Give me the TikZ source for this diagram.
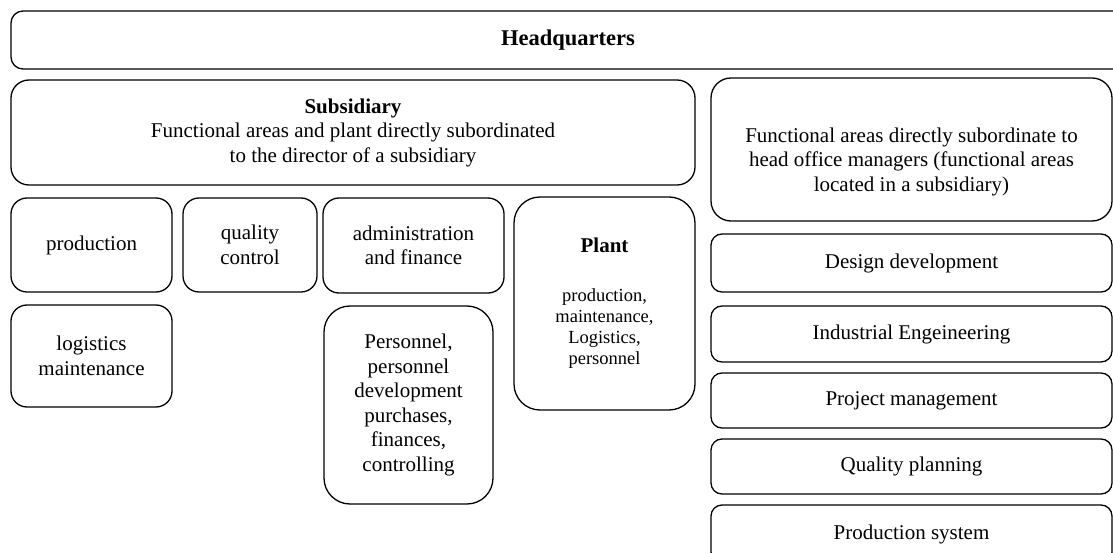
\documentclass[tikz,border=0pt]{standalone}
\usepackage{fontspec}
\setmainfont{Liberation Serif}
\usepackage{xcolor}

\tikzset{
    box/.style={draw,rounded corners=#1,align=center,inner sep=0pt},
    box/.default=14pt,
    txt/.style={font=\fontsize{21}{24.5}\selectfont}
}

\begin{document}
\begin{tikzpicture}[x=1pt,y=-1pt,line width=1.3pt,txt]
    \useasboundingbox (0,0) rectangle (1113,553);
    \clip (0,0) rectangle (1113,553);

    % top level
    \node[box=12pt,minimum width=1114pt,minimum height=58pt,
          font=\fontsize{22.5}{27}\selectfont\bfseries] (hq) at (568,40) {Headquarters};
    \node[box=18pt,minimum width=684pt,minimum height=105pt] (subs) at (353,132.5)
        {\textbf{Subsidiary}\\Functional areas and plant directly subordinated\\to the director of a subsidiary};
    \node[box=20pt,minimum width=401pt,minimum height=143pt] (office) at (911.5,149.5) {};
    \node[align=center] (officetxt) at ([yshift=-12pt]office.center)
        {Functional areas directly subordinate to\\head office managers (functional areas\\located in a subsidiary)};

    % subsidiary areas
    \foreach \name/\xpos/\ypos/\wdt/\hgt/\txt in {prod/91.5/245/161/94/{production},
                                                   qc/250/245/134/94/{quality\\control},
                                                   adm/413.5/245.5/181/95/{administration\\and finance},
                                                   logm/91.5/356/161/102/{logistics\\maintenance}} {
        \node[box=16pt,minimum width=\wdt pt,minimum height=\hgt pt] (\name) at (\xpos,\ypos) {\txt};
    }
    \node[box=26pt,minimum width=169pt,minimum height=198pt] (pers) at (408.5,405)
        {Personnel,\\personnel\\development\\purchases,\\finances,\\controlling};
    \node[box=26pt,minimum width=181pt,minimum height=213pt,
          font=\fontsize{18.5}{21.3}\selectfont] (plant) at (604.5,303.5)
        {{\fontsize{21}{24}\selectfont\bfseries Plant}\\[27pt]production,\\maintenance,\\Logistics,\\personnel};

    % head office areas
    \foreach \name/\ypos/\hgt/\txt in {dd/263/58/Design development,
                                       ie/334/56/Industrial Engeineering,
                                       pm/400.5/55/Project management,
                                       qp/466.5/55/Quality planning,
                                       ps/534/58/Production system} {
        \node[box=11pt,minimum width=401pt,minimum height=\hgt pt] (\name) at (911.5,\ypos) {\txt};
    }
\end{tikzpicture}
\end{document}
